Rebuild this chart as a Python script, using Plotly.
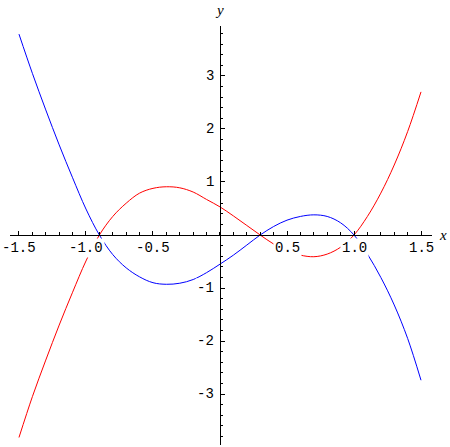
import plotly.graph_objects as go

x_vals = [-1.5, -1.4, -1.3, -1.2, -1.1, -1.0, -0.9, -0.8, -0.7, -0.6, -0.5, -0.4, -0.3, -0.2, -0.1,
          0.0, 0.1, 0.2, 0.3, 0.4, 0.5, 0.6, 0.7, 0.8, 0.9, 1.0, 1.1, 1.2, 1.3, 1.4, 1.5]

blue_y = [3.79, 3.05, 2.36, 1.70, 1.08, 0.49, 0.0, -0.37, -0.62, -0.79, -0.90, -0.93, -0.91, -0.84, -0.71,
          -0.55, -0.38, -0.19, 0.0, 0.16, 0.28, 0.35, 0.38, 0.35, 0.23, 0.0, -0.36, -0.80, -1.32, -1.95, -2.74]

red_y = [-3.82, -3.05, -2.36, -1.70, -1.08, -0.49, 0.0, 0.35, 0.60, 0.79, 0.88, 0.91, 0.89, 0.81, 0.67,
         0.53, 0.36, 0.18, 0.0, -0.17, -0.30, -0.38, -0.41, -0.36, -0.23, 0.0, 0.35, 0.79, 1.32, 1.95, 2.70]

x_tick_vals = [-1.5, -1.0, -0.5, 0.5, 1.0, 1.5]
x_tick_text = ["-1.5", "-1.0", "-0.5", "0.5", "1.0", "1.5"]
y_tick_vals = [-3, -2, -1, 1, 2, 3]
y_tick_text = ["-3", "-2", "-1", "1", "2", "3"]

fig = go.Figure()
fig.add_trace(go.Scatter(x=x_vals, y=blue_y, mode="lines", line=dict(color="rgb(0,0,255)", width=1, shape="spline")))
fig.add_trace(go.Scatter(x=x_vals, y=red_y, mode="lines", line=dict(color="rgb(255,0,0)", width=1, shape="spline")))

tick_font = dict(family="Liberation Mono", size=14, color="black")

# tick labels with white boxes, like the original knocks the curves out behind them
for v, t in zip(x_tick_vals, x_tick_text):
    fig.add_annotation(x=v, y=0, xref="x", yref="y", text=t, showarrow=False, yshift=-13,
                       bgcolor="white", borderpad=1, font=tick_font)
for v, t in zip(y_tick_vals, y_tick_text):
    fig.add_annotation(x=0, y=v, xref="x", yref="y", text=t, showarrow=False, xanchor="right", xshift=-4,
                       bgcolor="white", borderpad=1, font=tick_font)

fig.add_annotation(x=1.026, y=0.5012, xref="paper", yref="paper", text="<i>x</i>", showarrow=False,
                   xanchor="center", yanchor="middle",
                   font=dict(family="Liberation Serif", size=15, color="black"))
fig.add_annotation(x=0.4976, y=1.038, xref="paper", yref="paper", text="<i>y</i>", showarrow=False,
                   xanchor="center", yanchor="middle",
                   font=dict(family="Liberation Serif", size=15, color="black"))

fig.update_layout(
    width=450, height=447,
    margin=dict(l=10, r=18, t=26, b=2, autoexpand=False),
    paper_bgcolor="white", plot_bgcolor="white",
    showlegend=False,
    xaxis=dict(range=[-1.567, 1.582], anchor="free", position=0.5012, showline=True, linecolor="black",
               linewidth=1, showgrid=False, zeroline=False, showticklabels=False,
               ticks="inside", tickvals=x_tick_vals, ticklen=4, tickcolor="black", tickwidth=1,
               minor=dict(tick0=0, dtick=0.1, ticks="inside", ticklen=2.5, tickcolor="black", showgrid=False)),
    yaxis=dict(range=[-3.962, 3.943], anchor="free", position=0.4976, showline=True, linecolor="black",
               linewidth=1, showgrid=False, zeroline=False, showticklabels=False,
               ticks="inside", tickvals=y_tick_vals, ticklen=4, tickcolor="black", tickwidth=1,
               minor=dict(tick0=0, dtick=0.2, ticks="inside", ticklen=2.5, tickcolor="black", showgrid=False)),
)

# page body has an 8px default margin; drop it so the figure sits at the window corner
fig.write_html("out.html", config={"displayModeBar": False},
               post_script="document.body.style.margin='0';")
